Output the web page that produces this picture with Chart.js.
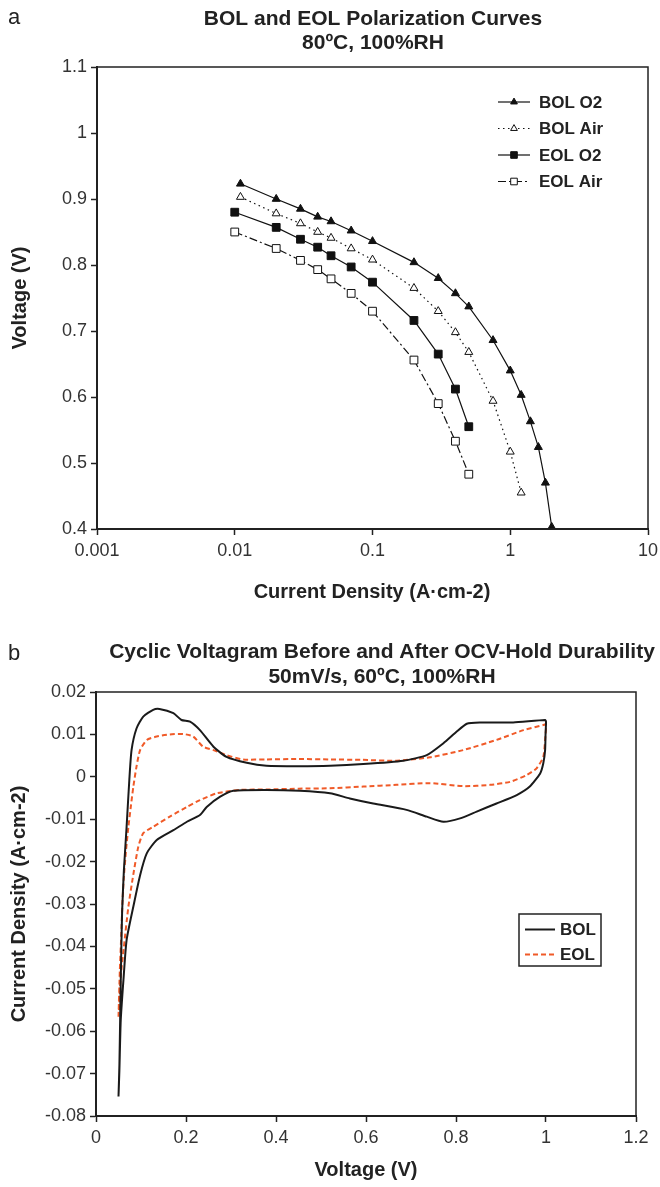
<!DOCTYPE html>
<html><head><meta charset="utf-8">
<script src="https://cdn.jsdelivr.net/npm/chart.js@4.4.1/dist/chart.umd.min.js"></script>
<style>
html,body{margin:0;padding:0;background:#fff;width:660px;height:1187px;overflow:hidden}
canvas{display:block;position:absolute;left:0}
#ca{top:0}#cb{top:620px}
</style></head>
<body>
<canvas id="ca" width="660" height="620"></canvas>
<canvas id="cb" width="660" height="567"></canvas>
<script>
// ---------- Panel a: polarization curves ----------
const polTicksX = [0.001, 0.01, 0.1, 1, 10];
const bolO2I  = [0.011,0.02,0.03,0.04,0.05,0.07,0.1,0.2,0.3,0.4,0.5,0.75,1.0,1.2,1.4,1.6,1.8,2.0];
const bolO2V  = [0.923,0.900,0.885,0.873,0.866,0.852,0.836,0.804,0.780,0.757,0.737,0.686,0.640,0.603,0.563,0.524,0.470,0.403];
const bolAirI = [0.011,0.02,0.03,0.04,0.05,0.07,0.1,0.2,0.3,0.4,0.5,0.75,1.0,1.2];
const bolAirV = [0.903,0.878,0.863,0.850,0.841,0.825,0.808,0.765,0.730,0.698,0.668,0.594,0.517,0.455];
const eolO2I  = [0.01,0.02,0.03,0.04,0.05,0.07,0.1,0.2,0.3,0.4,0.5];
const eolO2V  = [0.880,0.857,0.839,0.827,0.814,0.797,0.774,0.716,0.665,0.612,0.555];
const eolAirI = [0.01,0.02,0.03,0.04,0.05,0.07,0.1,0.2,0.3,0.4,0.5];
const eolAirV = [0.850,0.825,0.807,0.793,0.779,0.757,0.730,0.656,0.590,0.533,0.483];

// ---------- Panel b: cyclic voltammograms ----------
const bolCvV = [0.050,0.052,0.054,0.056,0.058,0.062,0.068,0.074,0.079,0.090,0.105,0.127,0.141,0.172,0.190,0.209,0.231,0.261,0.290,0.335,0.379,0.450,0.520,0.594,0.683,0.735,0.772,0.801,0.824,0.853,0.927,0.998,
  1.000,0.999,0.998,0.994,0.987,0.964,0.935,0.890,0.846,0.809,0.772,0.735,0.690,0.616,0.564,0.520,0.453,0.379,0.305,0.276,0.246,0.231,0.202,0.172,0.135,0.113,0.098,0.083,0.068,0.061,0.055,0.052,0.050];
const bolCvI = [-0.0754,-0.068,-0.055,-0.042,-0.032,-0.022,-0.0118,-0.0008,0.0063,0.0114,0.0142,0.0158,0.0160,0.0150,0.0134,0.0130,0.0110,0.0071,0.0047,0.0033,0.0026,0.0025,0.0026,0.0030,0.0038,0.0051,0.0079,0.0106,0.0125,0.0128,0.0128,0.0134,
  0.0130,0.0100,0.0063,0.0032,0.0008,-0.0023,-0.0043,-0.0063,-0.0082,-0.0098,-0.0106,-0.0094,-0.0078,-0.0063,-0.0051,-0.0039,-0.0033,-0.0031,-0.0033,-0.0047,-0.0071,-0.0090,-0.0106,-0.0126,-0.0149,-0.0180,-0.0232,-0.0306,-0.0385,-0.0479,-0.0574,-0.0692,-0.0754];
const eolCvV = [0.050,0.053,0.056,0.059,0.062,0.067,0.072,0.078,0.083,0.090,0.098,0.113,0.135,0.164,0.194,0.216,0.238,0.261,0.290,0.327,0.379,0.450,0.520,0.590,0.668,0.742,0.816,0.890,0.950,0.994,1.000,
  0.998,0.994,0.979,0.957,0.920,0.876,0.816,0.742,0.668,0.594,0.520,0.450,0.379,0.320,0.268,0.231,0.202,0.164,0.127,0.105,0.094,0.083,0.072,0.062,0.055,0.050];
const eolCvI = [-0.0566,-0.0456,-0.0377,-0.0291,-0.0235,-0.0170,-0.0118,-0.0065,-0.0023,0.0024,0.0063,0.0087,0.0095,0.0100,0.0101,0.0095,0.0071,0.0063,0.0051,0.0041,0.0041,0.0042,0.0041,0.0040,0.0038,0.0046,0.0063,0.0087,0.0110,0.0122,0.0124,
  0.0087,0.0047,0.0020,0.0004,-0.0012,-0.0019,-0.0022,-0.0015,-0.0019,-0.0023,-0.0027,-0.0028,-0.0030,-0.0031,-0.0039,-0.0055,-0.0071,-0.0094,-0.0118,-0.0133,-0.0165,-0.0230,-0.0306,-0.0401,-0.0471,-0.0566];

const FONT = '"Liberation Sans", Arial, Helvetica, sans-serif';
Chart.defaults.font.family = FONT;
Chart.defaults.font.size = 18;
Chart.defaults.color = '#333';

const pts = (xs, ys) => xs.map((x, i) => ({x: x, y: ys[i]}));
const fmt = v => String(Number(Number(v).toFixed(3)));

const decor = {
  id: 'decor',
  afterDraw(chart, args, o) {
    const ctx = chart.ctx, a = chart.chartArea;
    ctx.save();
    ctx.setLineDash([]);
    ctx.strokeStyle = '#222'; ctx.lineWidth = 1.5;
    ctx.strokeRect(a.left, a.top, a.right - a.left, a.bottom - a.top);
    ctx.fillStyle = '#222';
    ctx.font = '22px ' + FONT; ctx.textAlign = 'left'; ctx.textBaseline = 'alphabetic';
    ctx.fillText(o.panel.text, o.panel.x, o.panel.y);
    ctx.font = 'bold 21px ' + FONT; ctx.textAlign = 'center';
    o.titles.forEach(t => ctx.fillText(t.text, t.x, t.y));
    ctx.font = 'bold 20px ' + FONT; ctx.textBaseline = 'middle';
    ctx.fillText(o.xTitle.text, o.xTitle.x, o.xTitle.y);
    ctx.save(); ctx.translate(o.yTitle.x, o.yTitle.y); ctx.rotate(-Math.PI / 2);
    ctx.fillText(o.yTitle.text, 0, 0); ctx.restore();
    const L = o.legend;
    if (L.box) { ctx.lineWidth = 1.5; ctx.strokeStyle = '#222'; ctx.strokeRect(L.box.x, L.box.y, L.box.w, L.box.h); }
    ctx.font = 'bold 17px ' + FONT; ctx.textAlign = 'left'; ctx.textBaseline = 'middle';
    chart.data.datasets.forEach((d, i) => {
      const y = L.y0 + i * L.dy;
      ctx.strokeStyle = d.borderColor; ctx.lineWidth = d.borderWidth;
      ctx.setLineDash(d.borderDash || []);
      ctx.beginPath(); ctx.moveTo(L.x0, y); ctx.lineTo(L.x1, y); ctx.stroke();
      ctx.setLineDash([]);
      if (d.pointRadius > 0) {
        ctx.fillStyle = d.pointBackgroundColor; ctx.strokeStyle = d.pointBorderColor; ctx.lineWidth = d.pointBorderWidth;
        Chart.helpers.drawPoint(ctx, {pointStyle: d.pointStyle, radius: d.pointRadius * 0.85, borderWidth: d.pointBorderWidth, rotation: 0}, (L.x0 + L.x1) / 2, y);
      }
      ctx.fillStyle = '#222';
      ctx.fillText(d.label, L.tx, y + 1);
    });
    ctx.restore();
  }
};

const gridOpts = {drawOnChartArea: false, drawTicks: true, tickLength: 6, color: '#222', tickWidth: 1.5};
const borderOpts = {color: '#222', width: 2};
const fitX = h => s => { s.height = h; s.paddingLeft = 0; s.paddingRight = 0; };

function polSet(label, xs, ys, style, filled, dash) {
  return {
    label: label, data: pts(xs, ys), showLine: true, borderColor: '#111', borderWidth: 1.2,
    borderDash: dash, pointStyle: style, pointRadius: style === 'rect' ? 5.5 : 4.6,
    pointBackgroundColor: filled ? '#111' : '#fff', pointBorderColor: '#111', pointBorderWidth: 1,
    tension: 0
  };
}

new Chart(document.getElementById('ca'), {
  type: 'scatter',
  data: {datasets: [
    polSet('BOL O2', bolO2I, bolO2V, 'triangle', true, []),
    polSet('BOL Air', bolAirI, bolAirV, 'triangle', false, [1.5, 3.5]),
    polSet('EOL O2', eolO2I, eolO2V, 'rect', true, []),
    polSet('EOL Air', eolAirI, eolAirV, 'rect', false, [8, 3, 2, 3])
  ]},
  options: {
    responsive: false, animation: false,
    layout: {padding: {top: 67, right: 12, bottom: 0, left: 0}},
    plugins: {
      legend: {display: false}, tooltip: {enabled: false},
      decor: {
        panel: {text: 'a', x: 8, y: 24},
        titles: [{text: 'BOL and EOL Polarization Curves', x: 373, y: 25}, {text: '80ºC, 100%RH', x: 373, y: 49}],
        xTitle: {text: 'Current Density (A·cm-2)', x: 372, y: 592},
        yTitle: {text: 'Voltage (V)', x: 20, y: 298},
        legend: {x0: 498, x1: 530, tx: 539, y0: 102, dy: 26.5}
      }
    },
    scales: {
      x: {type: 'logarithmic', min: 0.001, max: 10,
          afterBuildTicks: s => { s.ticks = polTicksX.map(v => ({value: v})); },
          afterFit: fitX(91),
          ticks: {callback: v => fmt(v), padding: 5, maxRotation: 0, autoSkip: false, color: '#333'},
          grid: gridOpts, border: borderOpts},
      y: {type: 'linear', min: 0.4, max: 1.1,
          afterFit: s => { s.width = 97; },
          ticks: {stepSize: 0.1, callback: v => fmt(v), padding: 4, color: '#333'},
          grid: gridOpts, border: borderOpts}
    }
  },
  plugins: [decor]
});

new Chart(document.getElementById('cb'), {
  type: 'scatter',
  data: {datasets: [
    {label: 'BOL', data: pts(bolCvV, bolCvI), showLine: true, borderColor: '#1a1a1a', borderWidth: 2, borderDash: [], pointRadius: 0, tension: 0.2},
    {label: 'EOL', data: pts(eolCvV, eolCvI), showLine: true, borderColor: '#f05a28', borderWidth: 2, borderDash: [5, 3], pointRadius: 0, tension: 0.2}
  ]},
  options: {
    responsive: false, animation: false,
    layout: {padding: {top: 72, right: 24, bottom: 0, left: 0}},
    plugins: {
      legend: {display: false}, tooltip: {enabled: false},
      decor: {
        panel: {text: 'b', x: 8, y: 40},
        titles: [{text: 'Cyclic Voltagram Before and After OCV-Hold Durability', x: 382, y: 38}, {text: '50mV/s, 60ºC, 100%RH', x: 382, y: 63}],
        xTitle: {text: 'Voltage (V)', x: 366, y: 550},
        yTitle: {text: 'Current Density (A·cm-2)', x: 19, y: 284},
        legend: {box: {x: 519, y: 294, w: 82, h: 52}, x0: 525, x1: 555, tx: 560, y0: 309.5, dy: 25}
      }
    },
    scales: {
      x: {type: 'linear', min: 0, max: 1.2,
          afterFit: fitX(71),
          ticks: {stepSize: 0.2, callback: v => fmt(v), padding: 5, maxRotation: 0, autoSkip: false, color: '#333'},
          grid: gridOpts, border: borderOpts},
      y: {type: 'linear', min: -0.08, max: 0.02,
          afterFit: s => { s.width = 96; },
          ticks: {stepSize: 0.01, callback: v => fmt(v), padding: 4, autoSkip: false, color: '#333'},
          grid: gridOpts, border: borderOpts}
    }
  },
  plugins: [decor]
});
</script>
</body></html>
